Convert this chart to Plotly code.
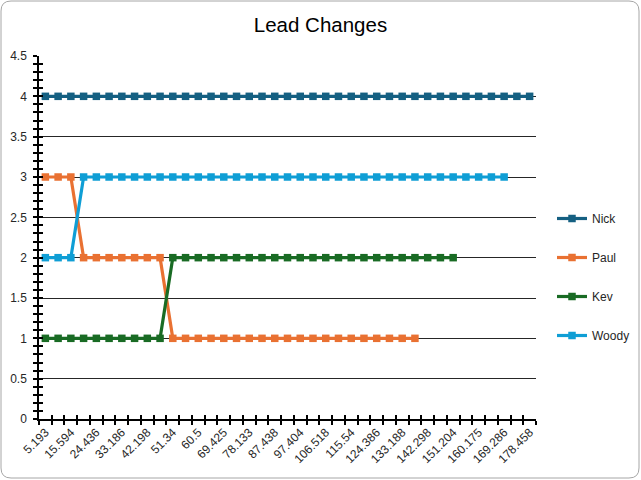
import plotly.graph_objects as go

# ---- data ----
tick_labels = ["5.193", "15.594", "24.436", "33.186", "42.198", "51.34", "60.5",
               "69.425", "78.133", "87.438", "97.404", "106.518", "115.54",
               "124.386", "133.188", "142.298", "151.204", "160.175", "169.286",
               "178.458"]
n_categories = 39
nick = [4] * 39
paul = [3, 3, 3] + [2] * 7 + [1] * 20
kev = [1] * 10 + [2] * 23
woody = [2, 2, 2] + [3] * 34

series_names = ["Nick", "Paul", "Kev", "Woody"]
series_values = [nick, paul, kev, woody]
series_colors = ["#156082", "#E97132", "#196B24", "#0F9ED5"]

W, H = 641, 480
L, R, T, B = 39, 536, 56, 419

fig = go.Figure()
for name, vals, col in zip(series_names, series_values, series_colors):
    fig.add_trace(go.Scatter(
        x=list(range(len(vals))), y=vals, name=name, mode="lines+markers",
        line=dict(color=col, width=3.2),
        marker=dict(symbol="square", size=7.5, color=col),
        legendgroup=name,
    ))

# invisible trace for the overlay axes (cross tick marks)
fig.add_trace(go.Scatter(x=[0], y=[0], xaxis="x2", yaxis="y2", mode="markers",
                         marker=dict(opacity=0), showlegend=False, hoverinfo="skip"))

tickfont = dict(family="Liberation Sans, Arial, sans-serif", size=12, color="#262626")
even_idx = list(range(0, n_categories, 2))
bounds = [i - 0.5 for i in range(n_categories + 1)]

def px(X):
    return (X - L) / (R - L)

def py(Y):
    return (B - Y) / (B - T)

# rounded border path
x0, x1, y0, y1, r = 1, 639, 1, 478, 10
path = (f"M {px(x0+r)} {py(y0)} L {px(x1-r)} {py(y0)} Q {px(x1)} {py(y0)} {px(x1)} {py(y0+r)} "
        f"L {px(x1)} {py(y1-r)} Q {px(x1)} {py(y1)} {px(x1-r)} {py(y1)} "
        f"L {px(x0+r)} {py(y1)} Q {px(x0)} {py(y1)} {px(x0)} {py(y1-r)} "
        f"L {px(x0)} {py(y0+r)} Q {px(x0)} {py(y0)} {px(x0+r)} {py(y0)} Z")

fig.update_layout(
    width=W, height=H, autosize=False,
    margin=dict(l=L, r=W - R, t=T, b=H - B, autoexpand=False),
    paper_bgcolor="white", plot_bgcolor="white",
    title=dict(text="Lead Changes", x=0.5, xanchor="center",
               y=1 - 25 / H, yanchor="middle",
               font=dict(family="Liberation Sans Narrow, Arial Narrow, sans-serif",
                         size=20.5, color="#000000")),
    xaxis=dict(range=[-0.5, n_categories - 0.5], tickmode="array",
               tickvals=even_idx, ticktext=tick_labels, tickangle=-45,
               ticks="", showgrid=False, zeroline=False,
               showline=True, linecolor="#000000", linewidth=1.5,
               tickfont=tickfont, automargin=False,
               minor=dict(tickmode="array", tickvals=bounds, ticks="outside",
                          ticklen=4, tickcolor="#000000", tickwidth=1.5, showgrid=False)),
    xaxis2=dict(overlaying="x", matches="x", anchor="y2", side="bottom",
                range=[-0.5, n_categories - 0.5], tickmode="array", tickvals=bounds,
                ticks="inside", ticklen=4, tickcolor="#000000", tickwidth=1.5,
                showticklabels=False, showgrid=False, zeroline=False, showline=False),
    yaxis=dict(range=[0, 4.5], dtick=0.5, tick0=0, ticks="outside", ticklen=4,
               tickcolor="#000000", tickwidth=1.5, showgrid=True,
               gridcolor="#262626", gridwidth=1.2, zeroline=False,
               showline=True, linecolor="#000000", linewidth=1.5,
               tickfont=tickfont, ticklabelstandoff=4, automargin=False,
               minor=dict(dtick=0.1, ticks="outside", ticklen=4, tickcolor="#000000",
                          tickwidth=1.5, showgrid=False)),
    yaxis2=dict(overlaying="y", matches="y", anchor="x2", side="left",
                range=[0, 4.5], dtick=0.5, tick0=0, ticks="inside", ticklen=4,
                tickcolor="#000000", tickwidth=1.5, showticklabels=False,
                showgrid=False, zeroline=False, showline=False,
                minor=dict(dtick=0.1, ticks="inside", ticklen=4, tickcolor="#000000",
                           tickwidth=1.5, showgrid=False)),
    legend=dict(xref="container", yref="container", x=552 / W, xanchor="left",
                y=(H - 277) / H, yanchor="middle",
                font=dict(family="Liberation Sans, Arial, sans-serif", size=12,
                          color="#262626"),
                tracegroupgap=20, bgcolor="rgba(0,0,0,0)"),
    shapes=[dict(type="path", xref="paper", yref="paper", path=path,
                 line=dict(color="#A6A6A6", width=1), layer="below")],
    showlegend=True,
)

fig.write_html("out.html",
               config={"responsive": False, "displayModeBar": False},
               post_script="document.body.style.margin='0px';document.body.style.overflow='hidden';")
